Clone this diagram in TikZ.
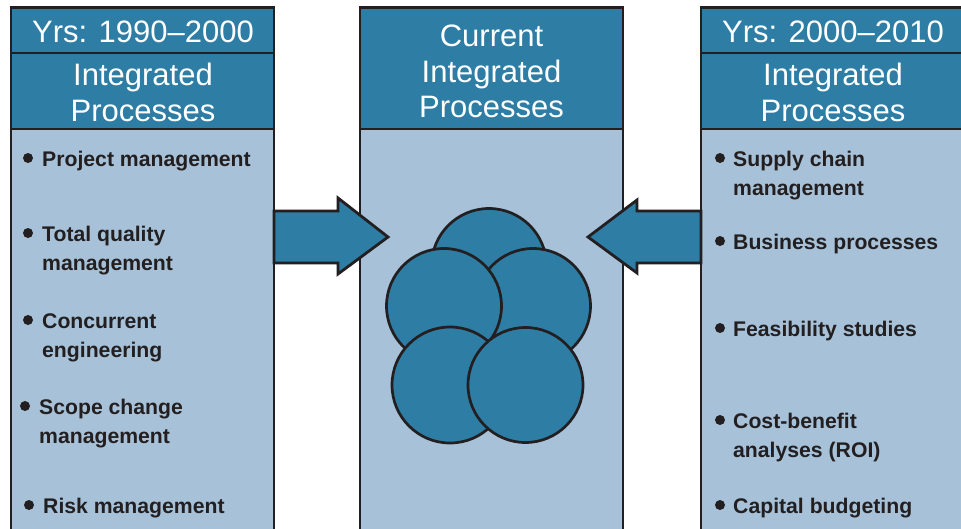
\documentclass[tikz,border=0pt]{standalone}
\usepackage{fontspec}
\setmainfont{Liberation Sans}
\definecolor{hdr}{HTML}{2E7DA5}
\definecolor{bodyc}{HTML}{A7C2D8}
\definecolor{ink}{HTML}{231F20}
\begin{document}
\begin{tikzpicture}[x=1pt,y=-1pt,line join=miter,
  box/.style={draw=ink,line width=2.8pt,rectangle,inner sep=0pt,outer sep=0pt,anchor=north west},
  hbox/.style={box,fill=hdr},
  bbox/.style={box,fill=bodyc},
  htext/.style={text=white,font=\fontsize{31}{36}\selectfont,anchor=base,inner sep=0pt},
  itext/.style={text=ink,font=\bfseries\fontsize{21.2}{29}\selectfont,anchor=base west,align=left,inner sep=0pt},
  itwo/.style={itext,yshift=-29pt},
  bul/.style={circle,fill=ink,inner sep=0pt,minimum size=10pt,yshift=8pt},
  arr/.style={draw=ink,line width=2.8pt,fill=hdr},
  circ/.style={circle,draw=ink,line width=2.7pt,fill=hdr,inner sep=0pt,minimum size=115pt}]
\useasboundingbox (0,0) rectangle (961,528);
\clip (0,0) rectangle (961,528);
% left column
\node[bbox,minimum width=263pt,minimum height=420pt] (Lb) at (11,129) {};
\node[hbox,minimum width=263pt,minimum height=76pt] (Lh2) at (11,53) {};
\node[hbox,minimum width=263pt,minimum height=45.5pt] (Lh1) at (11,7.5) {};
% centre column
\node[bbox,minimum width=263pt,minimum height=420pt] (Cb) at (360,129) {};
\node[hbox,minimum width=263pt,minimum height=121.5pt] (Ch) at (360,7.5) {};
% right column
\node[bbox,minimum width=264pt,minimum height=420pt] (Rb) at (701,129) {};
\node[hbox,minimum width=264pt,minimum height=76pt] (Rh2) at (701,53) {};
\node[hbox,minimum width=264pt,minimum height=45.5pt] (Rh1) at (701,7.5) {};
% header texts
\node[htext] (lt1) at (143,42) {Yrs: 1990–2000};
\node[htext] (lt2) at (143,85) {Integrated};
\node[htext] (lt3) at (143,121) {Processes};
\node[htext] (ct1) at (491.5,46) {Current};
\node[htext] (ct2) at (491.5,82) {Integrated};
\node[htext] (ct3) at (491.5,117) {Processes};
\node[htext] (rt1) at (833,42) {Yrs: 2000–2010};
\node[htext] (rt2) at (833,85) {Integrated};
\node[htext] (rt3) at (833,121) {Processes};
% arrows
\draw[arr] (274,211) -- (338,211) -- (338,198) -- (388,237) -- (338,274) -- (338,263) -- (274,263) -- cycle;
\draw[arr] (701,211) -- (637,211) -- (637,200) -- (588,237) -- (637,273) -- (637,263) -- (701,263) -- cycle;
% circles
\node[circ] (c1) at (489,266) {};
\node[circ] (c2) at (533,306) {};
\node[circ] (c3) at (444,306) {};
\node[circ,minimum size=116pt] (c4) at (450,385) {};
\node[circ] (c5) at (525.5,385) {};
% left items
\node[bul] (lb1) at (28,166) {};
\node[itext] (li1) at (42,166) {Project management};
\node[bul] (lb2) at (28,241) {};
\node[itwo] (li2) at (42,241) {Total quality\\management};
\node[bul] (lb3) at (28,328) {};
\node[itwo] (li3) at (42,328) {Concurrent\\engineering};
\node[bul] (lb4) at (25,414) {};
\node[itwo] (li4) at (39,414) {Scope change\\management};
\node[bul] (lb5) at (29,513) {};
\node[itext] (li5) at (43,513) {Risk management};
% right items
\node[bul] (rb1) at (720,166) {};
\node[itwo] (ri1) at (733,166) {Supply chain\\management};
\node[bul] (rb2) at (720,249) {};
\node[itext] (ri2) at (733,249) {Business processes};
\node[bul] (rb3) at (720,336) {};
\node[itext] (ri3) at (733,336) {Feasibility studies};
\node[bul] (rb4) at (720,428) {};
\node[itwo] (ri4) at (733,428) {Cost-benefit\\analyses (ROI)};
\node[bul] (rb5) at (720,513) {};
\node[itext] (ri5) at (733,513) {Capital budgeting};
\end{tikzpicture}
\end{document}
